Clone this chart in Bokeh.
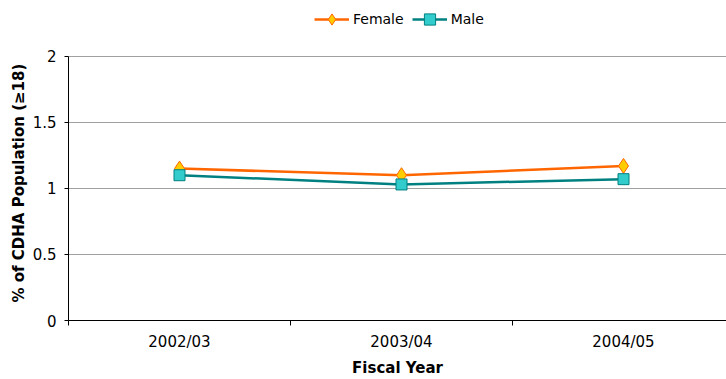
from bokeh.plotting import figure
from bokeh.models import Range1d, FixedTicker, Legend, LegendItem, Title
from bokeh.embed import file_html
from bokeh.resources import INLINE

categories = ["2002/03", "2003/04", "2004/05"]
female = [1.15, 1.10, 1.17]
male = [1.10, 1.03, 1.07]
y_ticks = [0, 0.5, 1, 1.5, 2]

xs = [i + 0.5 for i in range(len(categories))]

FONT = "DejaVu Sans"

# frame spans the full height above the x axis; the value axis is bounded to 0..2
p = figure(width=726, height=379, output_backend="svg", toolbar_location=None,
           x_range=Range1d(0, 658 / 222), y_range=Range1d(0, 2 * 321 / 265),
           min_border_left=68, min_border_right=0, min_border_top=0,
           min_border_bottom=58)
p.outline_line_color = None
p.background_fill_color = "white"
p.border_fill_color = "white"

l1 = p.line(xs, female, line_color="#FF6600", line_width=2.5)
m1 = p.scatter(xs, female, marker="diamond", size=15, fill_color="#FFCC00",
               line_color="#FF6600", line_width=1)
l2 = p.line(xs, male, line_color="#008080", line_width=2.5)
m2 = p.scatter(xs, male, marker="square", size=11, fill_color="#33CCCC",
               line_color="#008080", line_width=1)

# x axis
p.xaxis.ticker = FixedTicker(ticks=xs, minor_ticks=list(range(len(categories) + 1)))
p.xaxis.major_label_overrides = {x: c for x, c in zip(xs, categories)}
p.xaxis.major_tick_out = 0
p.xaxis.major_tick_in = 0
p.xaxis.minor_tick_out = 5
p.xaxis.minor_tick_in = 0
p.xaxis.minor_tick_line_color = "black"
p.xaxis.axis_line_color = "black"
p.xaxis.axis_label = "Fiscal Year"
p.xaxis.axis_label_text_font = FONT
p.xaxis.axis_label_text_font_style = "bold"
p.xaxis.axis_label_text_font_size = "15px"
p.xaxis.axis_label_text_color = "black"
p.xaxis.axis_label_standoff = 5
p.xaxis.major_label_text_font = FONT
p.xaxis.major_label_text_font_size = "15px"
p.xaxis.major_label_text_color = "black"
p.xaxis.major_label_standoff = 7

# y axis
p.yaxis.ticker = FixedTicker(ticks=y_ticks)
p.yaxis.bounds = (0, 2)
p.yaxis.major_label_overrides = {0: "0", 0.5: "0.5", 1: "1", 1.5: "1.5", 2: "2"}
p.yaxis.minor_tick_line_color = None
p.yaxis.major_tick_out = 4
p.yaxis.major_tick_in = 0
p.yaxis.major_tick_line_color = "black"
p.yaxis.axis_line_color = "black"
p.yaxis.major_label_text_font = FONT
p.yaxis.major_label_text_font_size = "15px"
p.yaxis.major_label_text_color = "black"
p.yaxis.major_label_standoff = 8

ytitle = Title(text="% of CDHA Population (≥18)", align="left", offset=18,
               text_font=FONT, text_font_size="15px", text_font_style="bold",
               text_color="black", standoff=3)
p.add_layout(ytitle, "left")

p.xgrid.grid_line_color = None
p.ygrid.ticker = FixedTicker(ticks=y_ticks)
p.ygrid.grid_line_color = "#A0A0A0"
p.ygrid.grid_line_width = 1

legend = Legend(items=[LegendItem(label="Female", renderers=[l1, m1]),
                       LegendItem(label="Male", renderers=[l2, m2])],
                orientation="horizontal", location=(246, 287))
legend.label_text_font = FONT
legend.label_text_font_size = "14px"
legend.label_text_color = "black"
legend.glyph_width = 35
legend.glyph_height = 28
legend.label_standoff = 4
legend.spacing = 8
legend.padding = 2
legend.margin = 0
legend.border_line_color = None
legend.background_fill_alpha = 0
p.add_layout(legend, "center")

open("out.html", "w").write(file_html(p, INLINE))
